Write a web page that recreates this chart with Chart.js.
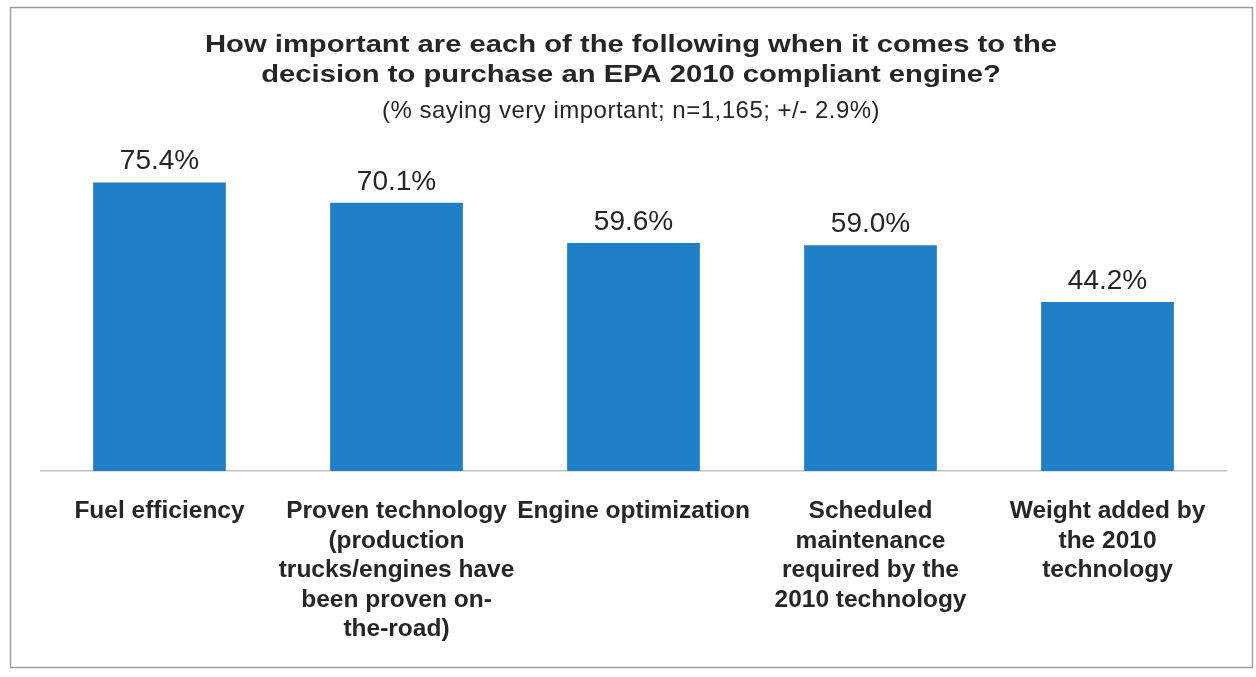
<!DOCTYPE html>
<html>
<head>
<meta charset="utf-8">
<script src="https://cdn.jsdelivr.net/npm/chart.js@4.4.0/dist/chart.umd.min.js"></script>
<style>
  html, body { margin: 0; padding: 0; background: #fff; }
  #wrap { width: 1256px; height: 677px; position: relative; }
</style>
</head>
<body>
<div id="wrap"><canvas id="chart"></canvas></div>
<script>
const categories = [
  ['Fuel efficiency'],
  ['Proven technology', '(production', 'trucks/engines have', 'been proven on-', 'the-road)'],
  ['Engine optimization'],
  ['Scheduled', 'maintenance', 'required by the', '2010 technology'],
  ['Weight added by', 'the 2010', 'technology']
];
const values = [75.4, 70.1, 59.6, 59.0, 44.2];
const titleLines = [
  'How important are each of the following when it comes to the',
  'decision to purchase an EPA 2010 compliant engine?'
];
const subtitleText = '(% saying very important; n=1,165; +/- 2.9%)';

const FONT = '"Liberation Sans", Arial, sans-serif';
const TEXT = '#262626';
const BAR = '#1f80c8';

// thin grey frame around the whole chart
const framePlugin = {
  id: 'frame',
  beforeDraw(chart) {
    const ctx = chart.ctx;
    ctx.save();
    ctx.fillStyle = '#fff';
    ctx.fillRect(0, 0, chart.width, chart.height);
    ctx.strokeStyle = '#a0a0a0';
    ctx.lineWidth = 1.5;
    ctx.strokeRect(10.5, 7.5, chart.width - 14, chart.height - 17);
    ctx.restore();
  }
};

// title block; the bold lines in the original are set wide, so stretch them
const headingPlugin = {
  id: 'heading',
  afterDraw(chart) {
    const ctx = chart.ctx;
    const cx = 631;
    const stretch = 1.27;
    ctx.save();
    ctx.fillStyle = TEXT;
    ctx.textAlign = 'center';
    ctx.textBaseline = 'middle';
    ctx.font = 'bold 23px ' + FONT;
    ctx.save();
    ctx.scale(stretch, 1);
    titleLines.forEach((line, i) => {
      ctx.fillText(line, cx / stretch, 46 + i * 30);
    });
    ctx.restore();
    ctx.font = '24px ' + FONT;
    ctx.letterSpacing = '0.5px';
    ctx.fillText(subtitleText, cx, 111);
    ctx.restore();
  }
};

// percentage labels above each bar
const valueLabelPlugin = {
  id: 'valueLabels',
  afterDatasetsDraw(chart) {
    const ctx = chart.ctx;
    const meta = chart.getDatasetMeta(0);
    ctx.save();
    ctx.font = '28px ' + FONT;
    ctx.fillStyle = TEXT;
    ctx.textAlign = 'center';
    ctx.textBaseline = 'bottom';
    meta.data.forEach((bar, i) => {
      ctx.fillText(values[i].toFixed(1) + '%', bar.x, bar.y - 7);
    });
    ctx.restore();
  }
};

new Chart(document.getElementById('chart'), {
  type: 'bar',
  data: {
    labels: categories,
    datasets: [{
      data: values,
      backgroundColor: BAR,
      borderWidth: 0,
      categoryPercentage: 1,
      barPercentage: 0.56
    }]
  },
  plugins: [framePlugin, headingPlugin, valueLabelPlugin],
  options: {
    responsive: true,
    maintainAspectRatio: false,
    animation: false,
    layout: {
      padding: { left: 41, right: 30, top: 165, bottom: 7 }
    },
    plugins: {
      legend: { display: false },
      tooltip: { enabled: false },
      title: { display: false }
    },
    scales: {
      x: {
        grid: { display: false, drawTicks: false },
        border: { display: true, color: '#c4c4c4', width: 1.5 },
        ticks: {
          color: TEXT,
          font: { family: FONT, size: 24.5, weight: 'bold', lineHeight: 1.2 },
          padding: 26,
          maxRotation: 0,
          minRotation: 0,
          autoSkip: false
        }
      },
      y: {
        display: false,
        min: 0,
        max: 80
      }
    }
  }
});
</script>
</body>
</html>
